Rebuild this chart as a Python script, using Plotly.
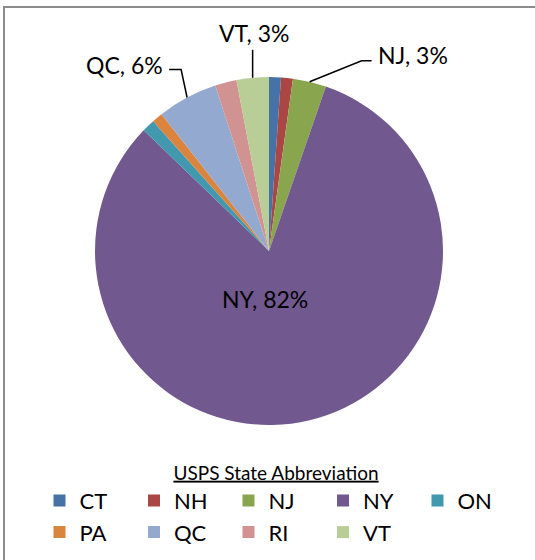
import math
import plotly.graph_objects as go

# ---- data ----
states = ["CT", "NH", "NJ", "NY", "ON", "PA", "QC", "RI", "VT"]
shares = [1.1, 1.1, 3.1, 81.9, 1.2, 1.0, 5.6, 2.0, 3.0]
colors = ["#4572A7", "#AA4643", "#89A54E", "#71588F", "#4198AF",
          "#DB843D", "#93A9CF", "#D19392", "#B9CD96"]
legend_title = "USPS State Abbreviation"

# ---- layout geometry ----
W, H = 535, 560
L, R, T, B = 0, 0, 77, 135          # plot area spans full width
PW, PH = W - L - R, H - T - B
PIE_X0, PIE_X1 = 95, 443            # pie box (px)
CX, CY = (PIE_X0 + PIE_X1) / 2, T + PH / 2
RAD = min(PIE_X1 - PIE_X0, PH) / 2
FONT = "Lato"


def px(x):
    return (x - L) / PW


def py(y):
    return 1 - (y - T) / PH


fig = go.Figure(go.Pie(
    labels=states, values=shares, sort=False, direction="clockwise",
    rotation=0, marker=dict(colors=colors, line=dict(width=0)),
    textinfo="none", hoverinfo="label+percent",
    domain=dict(x=[px(PIE_X0), px(PIE_X1)], y=[0, 1]),
))

total = sum(shares)
cum = 0.0
mids = {}
for s, v in zip(states, shares):
    mids[s] = (cum + v / 2) / total * 2 * math.pi
    cum += v


def edge(s):
    a = mids[s]
    return CX + RAD * math.sin(a), CY - RAD * math.cos(a)


def pct(s):
    return round(shares[states.index(s)] / total * 100)


annotations = []
shapes = []
line_style = dict(color="black", width=1.5)
lab_font = dict(family=FONT, size=23, color="black")

# VT : vertical leader above slice
ex, ey = edge("VT")
shapes.append(dict(type="path", xref="paper", yref="paper",
                   path=f"M{px(ex)},{py(ey)} L{px(ex)},{py(ey - 28)}",
                   line=line_style))
annotations.append(dict(x=px(ex + 1), y=py(ey - 29), xref="paper", yref="paper",
                        text=f"VT, {pct('VT')}%", showarrow=False, font=lab_font,
                        xanchor="center", yanchor="bottom"))

# QC : elbow leader to the left
ex, ey = edge("QC")
elx, ely = ex - 6, ey - 28
shapes.append(dict(type="path", xref="paper", yref="paper",
                   path=f"M{px(ex)},{py(ey)} L{px(elx)},{py(ely)} L{px(elx - 12)},{py(ely)}",
                   line=line_style))
annotations.append(dict(x=px(elx - 16), y=py(ely - 4), xref="paper", yref="paper",
                        text=f"QC, {pct('QC')}%", showarrow=False, font=lab_font,
                        xanchor="right", yanchor="middle"))

# NJ : elbow leader to the right
ex, ey = edge("NJ")
elx, ely = ex + 52, ey - 21
shapes.append(dict(type="path", xref="paper", yref="paper",
                   path=f"M{px(ex)},{py(ey)} L{px(elx)},{py(ely)} L{px(elx + 10)},{py(ely)}",
                   line=line_style))
annotations.append(dict(x=px(elx + 14), y=py(ely - 6), xref="paper", yref="paper",
                        text=f"NJ, {pct('NJ')}%", showarrow=False, font=lab_font,
                        xanchor="left", yanchor="middle"))

# NY : inside label
annotations.append(dict(x=px(CX - 4), y=py(CY + 48), xref="paper", yref="paper",
                        text=f"NY, {pct('NY')}%", showarrow=False, font=lab_font,
                        xanchor="center", yanchor="middle"))

# chart frame
shapes.append(dict(type="rect", xref="paper", yref="paper",
                   x0=px(4), y0=py(H + 20), x1=px(W + 20), y1=py(7),
                   line=dict(color="#8C8C8C", width=2), fillcolor="rgba(0,0,0,0)",
                   layer="below"))

fig.update_layout(
    width=W, height=H,
    margin=dict(l=L, r=R, t=T, b=B, autoexpand=False),
    paper_bgcolor="white", plot_bgcolor="white",
    font=dict(family=FONT, size=22, color="black"),
    annotations=annotations, shapes=shapes,
    showlegend=True,
    legend=dict(
        orientation="h", x=px(39.5), y=py(455), xanchor="left", yanchor="top",
        traceorder="normal", entrywidth=49.5, entrywidthmode="pixels",
        font=dict(family=FONT, size=22, color="black"),
        title=dict(text=f"<u>{legend_title}</u>", side="top center",
                   font=dict(family=FONT, size=19, color="black")),
        itemclick=False, itemdoubleclick=False,
    ),
)

fig.write_html("out.html",
               config={"displayModeBar": False},
               post_script="document.body.style.margin='0px';")
